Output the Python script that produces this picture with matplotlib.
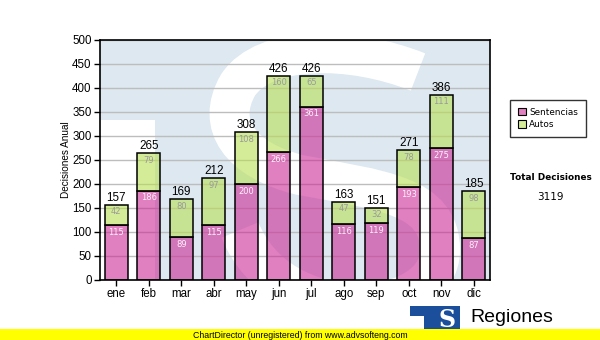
import matplotlib.pyplot as plt
from matplotlib.patches import Rectangle, PathPatch
from matplotlib.path import Path
import numpy as np

# monthly decisions, stacked: sentencias at the bottom, autos on top
months = ['ene', 'feb', 'mar', 'abr', 'may', 'jun', 'jul', 'ago', 'sep', 'oct', 'nov', 'dic']
sentencias = [115, 186, 89, 115, 200, 266, 361, 116, 119, 193, 275, 87]
autos = [42, 79, 80, 97, 108, 160, 65, 47, 32, 78, 111, 98]
total_label = 'Total Decisiones'

W, H = 600, 340
pink = (0.80, 0.17, 0.59, 0.6)
green = (0.72, 0.87, 0.33, 0.6)
wm_blue = '#dde8f1'

fig = plt.figure(figsize=(W / 100, H / 100), dpi=100)
fig.patch.set_facecolor('white')

# plot area in pixels: x 100..490, y 40..280
ax = fig.add_axes([100 / W, 1 - 280 / H, 390 / W, 240 / H])
ax.set_facecolor(wm_blue)


def ax_pt(x, y):
    return ((x - 100) / 390, (280 - y) / 240)


# faded "TS" watermark behind the bars
ax.add_patch(Rectangle(ax_pt(100, 280), 55 / 390, 160 / 240, facecolor='white',
                       edgecolor='none', transform=ax.transAxes, zorder=0.2))
verts = [(418, 72),
         (350, 45), (265, 45), (238, 85),
         (215, 125), (240, 160), (300, 175),
         (380, 190), (440, 195), (440, 250),
         (440, 320), (280, 330), (240, 230)]
codes = [Path.MOVETO] + [Path.CURVE4] * 12
s_path = Path([ax_pt(*v) for v in verts], codes)
ax.add_patch(PathPatch(s_path, facecolor='none', edgecolor='white', lw=28.8,
                       capstyle='butt', transform=ax.transAxes, zorder=0.2))

x = np.arange(len(months))
totals = [s + a for s, a in zip(sentencias, autos)]

ax.bar(x, sentencias, width=0.71, color=pink, edgecolor='black', linewidth=1.1,
       label='Sentencias', zorder=2)
ax.bar(x, autos, bottom=sentencias, width=0.71, color=green, edgecolor='black',
       linewidth=1.1, label='Autos', zorder=2)

for i in range(len(months)):
    ax.annotate(str(sentencias[i]), (x[i], sentencias[i]), xytext=(0, -5.2),
                textcoords='offset points', ha='center', va='center',
                fontsize=6, color='#fff0fa', family='DejaVu Sans', zorder=3)
    ax.annotate(str(autos[i]), (x[i], totals[i]), xytext=(0, -5.2),
                textcoords='offset points', ha='center', va='center',
                fontsize=6, color='#9a9a9a', family='DejaVu Sans', zorder=3)
    ax.annotate(str(totals[i]), (x[i], totals[i]), xytext=(0, 0.6),
                textcoords='offset points', ha='center', va='bottom',
                fontsize=8.4, color='black', family='Liberation Sans', zorder=3)

ax.set_xlim(-0.5, 11.5)
ax.set_ylim(0, 500)
ax.set_yticks(np.arange(0, 501, 50))
ax.set_xticks(x)
ax.set_xticklabels(months)
ax.set_axisbelow(True)
ax.yaxis.grid(True, color='#bdbdbd', linewidth=1)
for sp in ax.spines.values():
    sp.set_linewidth(1.2)
ax.tick_params(direction='out', length=4, width=1, pad=2, labelsize=8.3)
for lbl in ax.get_xticklabels() + ax.get_yticklabels():
    lbl.set_family('Liberation Sans')
ax.set_ylabel('Decisiones Anual', fontsize=7.2, family='Liberation Sans', labelpad=0.5)

leg = fig.legend(loc='upper left', bbox_to_anchor=(510 / W, 1 - 100 / H),
                 frameon=True, fancybox=False, edgecolor='black',
                 prop={'family': 'DejaVu Sans', 'size': 6.4},
                 handlelength=0.9, handleheight=0.9, handletextpad=0.4,
                 borderpad=0.85, labelspacing=0.4, borderaxespad=0)
leg.get_frame().set_linewidth(1)
for h in leg.legend_handles:
    h.set_linewidth(0.8)

fig.text(551 / W, 1 - 178 / H, total_label, ha='center', va='center',
         fontsize=6.4, fontweight='bold', family='DejaVu Sans')
fig.text(550 / W, 1 - 197 / H, str(sum(totals)), ha='center', va='center',
         fontsize=7.5, family='DejaVu Sans')

# logo in the lower right corner
fig.add_artist(Rectangle((410 / W, 1 - 329 / H), 50 / W, 23 / H,
                         facecolor='#1b4f9b', edgecolor='none', transform=fig.transFigure))
fig.add_artist(Rectangle((410 / W, 1 - 329 / H), 14 / W, 13 / H,
                         facecolor='white', edgecolor='none', transform=fig.transFigure))
fig.text(447 / W, 1 - 320 / H, 'S', ha='center', va='center', color='white',
         fontsize=17, fontweight='bold', family='DejaVu Serif')
fig.text(470 / W, 1 - 322 / H, 'Regiones', ha='left', va='baseline',
         fontsize=14, family='Liberation Sans')

# footer band
fig.add_artist(Rectangle((0, 0), 1, 11 / H, facecolor='#ffff00', edgecolor='none',
                         transform=fig.transFigure))
fig.text(300 / W, 1 - 335 / H, 'ChartDirector (unregistered) from www.advsofteng.com',
         ha='center', va='center', fontsize=6.3, family='Liberation Sans')

fig.savefig('out.png', dpi=100)
